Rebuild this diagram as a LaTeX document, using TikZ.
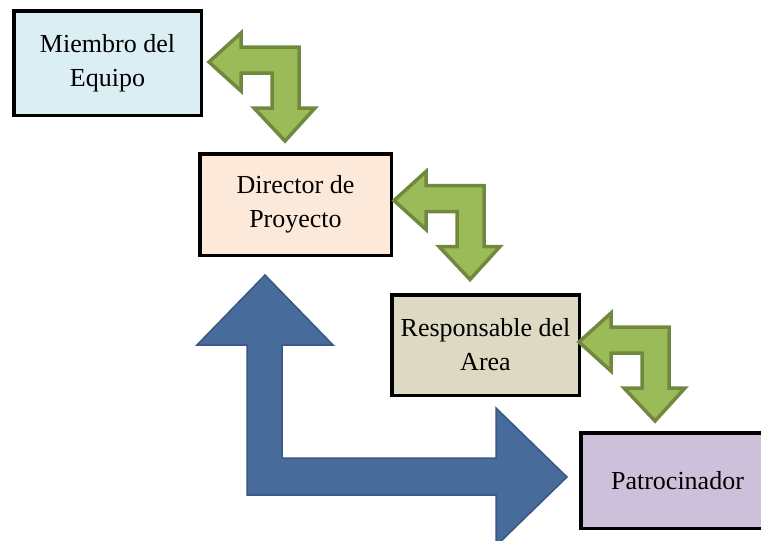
\documentclass[tikz,border=0pt]{standalone}
\usepackage{fontspec}
\setmainfont{Liberation Serif}
\usepackage{xcolor}
\definecolor{teamfill}{RGB}{218,238,243}
\definecolor{leadfill}{RGB}{253,233,217}
\definecolor{areafill}{RGB}{221,217,195}
\definecolor{sponsorfill}{RGB}{204,192,218}
\definecolor{leaffill}{RGB}{155,187,89}
\definecolor{leafdraw}{RGB}{113,137,63}
\definecolor{riverfill}{RGB}{71,107,155}
\definecolor{riverdraw}{RGB}{56,88,130}

\begin{document}
\begin{tikzpicture}[
  x=1pt, y=-1pt,
  font=\fontsize{26}{34}\selectfont,
  role/.style={draw=black, line width=3.5pt, align=center, inner sep=0pt},
  turnarrow/.pic={
    \path[fill=leaffill, draw=leafdraw, line width=3.5pt, line join=miter]
      (0,0) -- (32,-29) -- (32,-15) -- (90,-15) -- (90,46) -- (106,46)
      -- (76,79) -- (45,46) -- (63,46) -- (63,11) -- (32,11) -- (32,29) -- cycle;
  },
  bigarrow/.style={fill=riverfill, draw=riverdraw, line width=1.5pt, line join=miter},
]
\useasboundingbox (0,0) rectangle (761,541);

% escalation back to the top
\path[bigarrow]
  (265,275) -- (333,345) -- (282,345) -- (282,458) -- (496,458) -- (496,408)
  -- (567,477) -- (496,546) -- (496,495) -- (247,495) -- (247,345)
  -- (197,345) -- cycle;

\node[role, fill=teamfill, minimum width=187.5, minimum height=104.5] (miembro)
  at (107.5,63) {Miembro del\\Equipo};
\node[role, fill=leadfill, minimum width=191.5, minimum height=101.5] (director)
  at (295.5,204.5) {Director de\\Proyecto};
\node[role, fill=areafill, minimum width=187.5, minimum height=100.5] (area)
  at (485.5,345) {Responsable del\\Area};
\node[role, fill=sponsorfill, minimum width=193.5, minimum height=95.5] (patrocinador)
  at (677.5,480.5) {Patrocinador};

\pic at ([shift={(6,-1)}]miembro.east) {turnarrow};
\pic at ([shift={(1,-4)}]director.east) {turnarrow};
\pic at ([shift={(-2,-3)}]area.east) {turnarrow};

\end{tikzpicture}
\end{document}
